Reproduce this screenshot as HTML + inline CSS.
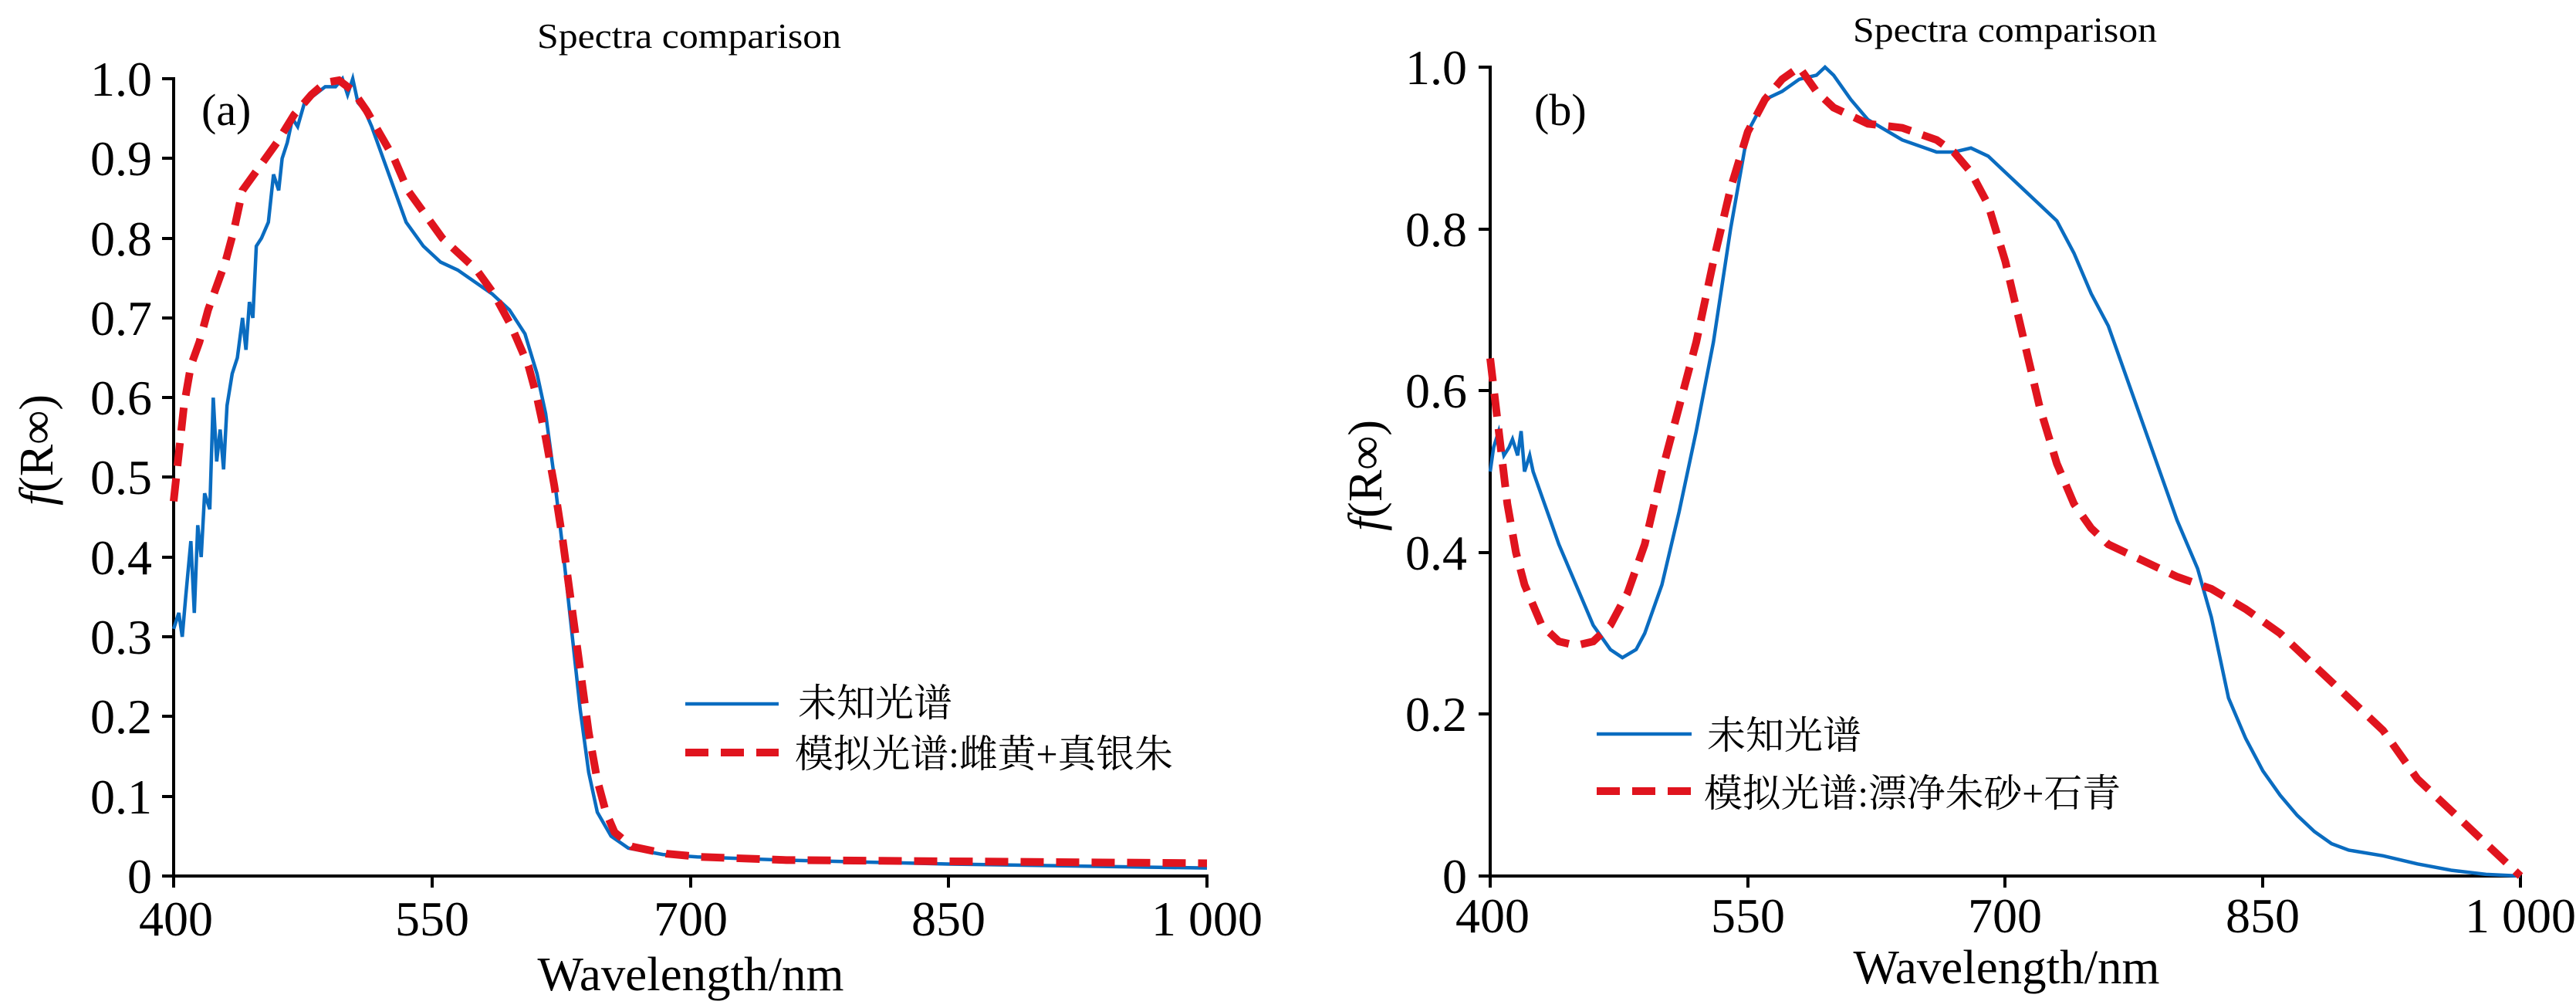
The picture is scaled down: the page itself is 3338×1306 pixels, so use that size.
<!DOCTYPE html>
<html><head><meta charset="utf-8"><style>
html,body{margin:0;padding:0;background:#fff}
svg{display:block}
text{font-family:"Liberation Serif","Noto Serif CJK SC","Noto Sans CJK SC",serif;fill:#000}
</style></head><body>
<svg width="3338" height="1306" viewBox="0 0 3338 1306" xmlns="http://www.w3.org/2000/svg">
<!-- Panel A -->
<text x="893" y="62" font-size="46" text-anchor="middle" textLength="394" lengthAdjust="spacingAndGlyphs">Spectra comparison</text>
<g stroke="#000" stroke-width="4" fill="none">
<line x1="225" y1="100" x2="225" y2="1137"/>
<line x1="223" y1="1135" x2="1566" y2="1135"/>
<path d="M210 102H225M210 205H225M210 309H225M210 412H225M210 515H225M210 618H225M210 722H225M210 825H225M210 928H225M210 1032H225M210 1135H225"/>
<path d="M225 1135V1150M560 1135V1150M895 1135V1150M1229 1135V1150M1564 1135V1150"/>
</g>
<g font-size="64" text-anchor="end">
<text x="197" y="124">1.0</text><text x="197" y="227">0.9</text><text x="197" y="331">0.8</text><text x="197" y="434">0.7</text><text x="197" y="537">0.6</text><text x="197" y="640">0.5</text><text x="197" y="744">0.4</text><text x="197" y="847">0.3</text><text x="197" y="950">0.2</text><text x="197" y="1054">0.1</text><text x="197" y="1157">0</text>
</g>
<g font-size="64" text-anchor="middle">
<text x="228" y="1212">400</text><text x="560" y="1212">550</text><text x="895" y="1212">700</text><text x="1229" y="1212">850</text><text x="1564" y="1212">1 000</text>
</g>
<text x="895" y="1283" font-size="62" text-anchor="middle" textLength="397" lengthAdjust="spacingAndGlyphs">Wavelength/nm</text>
<text transform="translate(68,583) rotate(-90)" font-size="62" text-anchor="middle"><tspan font-style="italic">f</tspan>(R∞)</text>
<text x="261" y="162" font-size="58">(a)</text>
<g transform="translate(225,1135) scale(2.2317,-1033)" fill="none">
<polyline vector-effect="non-scaling-stroke" stroke="#0a6cc0" stroke-width="4.5" points="0,0.31 3,0.33 5,0.30 7,0.35 10,0.42 12,0.33 14,0.44 16,0.40 18,0.48 21,0.46 23,0.60 25,0.52 27,0.56 29,0.51 31,0.59 34,0.63 37,0.65 40,0.70 42,0.66 44,0.72 46,0.70 48,0.79 51,0.80 55,0.82 58,0.88 61,0.86 63,0.90 66,0.92 69,0.95 72,0.94 76,0.97 82,0.98 88,0.99 94,0.99 98,1.0 101,0.98 104,1.0 107,0.97 111,0.96 115,0.94 120,0.91 125,0.88 130,0.85 135,0.82 145,0.79 155,0.77 165,0.76 175,0.745 185,0.73 195,0.71 204,0.68 211,0.63 216,0.58 221,0.50 226,0.41 231,0.31 236,0.21 241,0.13 246,0.08 254,0.05 264,0.035 284,0.027 304,0.024 354,0.02 450,0.015 600,0.01"/>
<polyline vector-effect="non-scaling-stroke" stroke="#e0141e" stroke-width="10" stroke-dasharray="30 16" points="0,0.47 3,0.53 6,0.59 10,0.64 15,0.67 20,0.71 25,0.74 30,0.77 35,0.81 40,0.86 50,0.89 60,0.92 70,0.955 80,0.98 88,0.995 96,0.998 104,0.985 112,0.96 120,0.93 128,0.90 136,0.86 146,0.83 156,0.80 166,0.78 176,0.76 186,0.73 196,0.69 206,0.64 211,0.60 216,0.55 221,0.49 226,0.42 231,0.34 236,0.26 241,0.18 246,0.12 251,0.08 256,0.055 266,0.037 286,0.028 306,0.024 356,0.02 600,0.016"/>
</g>
<line x1="888" y1="912" x2="1009" y2="912" stroke="#0a6cc0" stroke-width="4.5"/>
<line x1="888" y1="975" x2="1009" y2="975" stroke="#e0141e" stroke-width="10" stroke-dasharray="30 16"/>
<text x="1034" y="928" font-size="50">未知光谱</text>
<text x="1030" y="994" font-size="50" textLength="490" lengthAdjust="spacingAndGlyphs">模拟光谱:雌黄+真银朱</text>

<!-- Panel B -->
<text x="2598" y="54" font-size="46" text-anchor="middle" textLength="394" lengthAdjust="spacingAndGlyphs">Spectra comparison</text>
<g stroke="#000" stroke-width="4" fill="none">
<line x1="1931" y1="85" x2="1931" y2="1137"/>
<line x1="1929" y1="1135" x2="3268" y2="1135"/>
<path d="M1916 87H1931M1916 297H1931M1916 506H1931M1916 716H1931M1916 925H1931M1916 1135H1931"/>
<path d="M1931 1135V1150M2265 1135V1150M2598 1135V1150M2932 1135V1150M3266 1135V1150"/>
</g>
<g font-size="64" text-anchor="end">
<text x="1901" y="109">1.0</text><text x="1901" y="319">0.8</text><text x="1901" y="528">0.6</text><text x="1901" y="738">0.4</text><text x="1901" y="947">0.2</text><text x="1901" y="1157">0</text>
</g>
<g font-size="64" text-anchor="middle">
<text x="1934" y="1208">400</text><text x="2265" y="1208">550</text><text x="2598" y="1208">700</text><text x="2932" y="1208">850</text><text x="3266" y="1208">1 000</text>
</g>
<text x="2600" y="1274" font-size="62" text-anchor="middle" textLength="397" lengthAdjust="spacingAndGlyphs">Wavelength/nm</text>
<text transform="translate(1790,616) rotate(-90)" font-size="62" text-anchor="middle"><tspan font-style="italic">f</tspan>(R∞)</text>
<text x="1988" y="162" font-size="58">(b)</text>
<g transform="translate(1931,1135) scale(2.225,-1048)" fill="none">
<polyline vector-effect="non-scaling-stroke" stroke="#0a6cc0" stroke-width="4.5" points="0,0.50 2,0.53 5,0.55 8,0.52 11,0.53 13,0.54 16,0.52 18,0.55 20,0.50 23,0.52 25,0.50 30,0.47 35,0.44 40,0.41 50,0.36 60,0.31 70,0.28 77,0.27 85,0.28 90,0.30 100,0.36 110,0.45 120,0.55 130,0.66 140,0.80 150,0.92 160,0.96 170,0.97 180,0.985 190,0.99 195,1.0 200,0.99 210,0.96 220,0.935 240,0.91 260,0.895 270,0.895 280,0.9 290,0.89 300,0.87 310,0.85 320,0.83 330,0.81 340,0.77 350,0.72 360,0.68 370,0.62 380,0.56 390,0.50 400,0.44 412,0.38 420,0.32 430,0.22 440,0.17 450,0.13 460,0.10 470,0.075 480,0.055 490,0.04 500,0.032 520,0.025 540,0.015 560,0.007 580,0.002 600,0"/>
<polyline vector-effect="non-scaling-stroke" stroke="#e0141e" stroke-width="10" stroke-dasharray="30 16" points="0,0.64 5,0.55 10,0.46 15,0.40 20,0.36 30,0.31 40,0.29 50,0.285 60,0.29 70,0.31 80,0.35 90,0.41 100,0.50 110,0.58 120,0.66 130,0.76 140,0.85 150,0.92 160,0.96 170,0.985 180,1.0 190,0.97 200,0.95 220,0.93 240,0.925 260,0.91 270,0.895 280,0.87 290,0.83 300,0.76 310,0.67 320,0.58 330,0.51 340,0.46 350,0.43 360,0.41 380,0.39 400,0.37 420,0.355 440,0.33 460,0.30 480,0.26 500,0.22 520,0.18 540,0.12 560,0.08 580,0.04 600,0.0"/>
</g>
<line x1="2069" y1="951" x2="2192" y2="951" stroke="#0a6cc0" stroke-width="4.5"/>
<line x1="2069" y1="1025" x2="2192" y2="1025" stroke="#e0141e" stroke-width="10" stroke-dasharray="30 16"/>
<text x="2212" y="970" font-size="50">未知光谱</text>
<text x="2208" y="1045" font-size="50" textLength="540" lengthAdjust="spacingAndGlyphs">模拟光谱:漂净朱砂+石青</text>
</svg>
</body></html>
